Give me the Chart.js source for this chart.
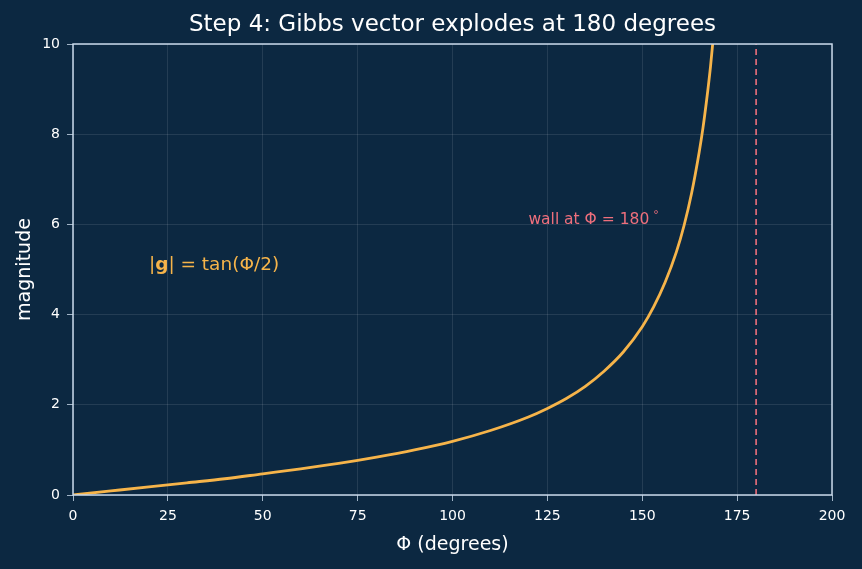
<!DOCTYPE html>
<html>
<head>
<meta charset="utf-8">
<script src="https://cdn.jsdelivr.net/npm/chart.js@4"></script>
<style>
  html, body { margin: 0; padding: 0; background: #0c2841; }
  #wrap { width: 862px; height: 569px; }
</style>
</head>
<body>
<div id="wrap"><canvas id="chart" width="862" height="569"></canvas></div>
<script>
// angle readings (degrees) and magnitudes
const phiDeg = [0, 10, 20, 30, 40, 50, 60, 70, 80, 90, 100, 110, 120, 125, 130, 135, 140, 145, 150, 153, 156, 159, 161, 163, 165, 166, 167, 168, 169, 170];
const magnitude = [0, 0.09, 0.18, 0.27, 0.36, 0.47, 0.58, 0.70, 0.84, 1.0, 1.19, 1.43, 1.73, 1.92, 2.14, 2.41, 2.75, 3.17, 3.73, 4.17, 4.71, 5.39, 5.97, 6.69, 7.60, 8.14, 8.78, 9.51, 10.39, 11.43];
const wallX = [180, 180];
const wallY = [0, 10];
const xTicks = [0, 25, 50, 75, 100, 125, 150, 175, 200];
const yTicks = [0, 2, 4, 6, 8, 10];

const bg = "#0c2841";
const spine = "#c9d9ea";
const orange = "#f6b44a";
const coral = "#ee6f7c";
const font = "'DejaVu Sans', sans-serif";

let curve = phiDeg.map((x, i) => ({ x: x, y: magnitude[i] }));
let wall = wallX.map((x, i) => ({ x: x, y: wallY[i] }));

const decor = {
  id: "decor",
  beforeDraw(chart) {
    let ctx = chart.ctx;
    ctx.save();
    ctx.fillStyle = bg;
    ctx.fillRect(0, 0, chart.width, chart.height);
    ctx.restore();
  },
  afterDatasetsDraw(chart) {
    let ctx = chart.ctx;
    let a = chart.chartArea;
    let xs = chart.scales.x;
    let ys = chart.scales.y;
    ctx.save();
    // frame
    ctx.strokeStyle = spine;
    ctx.lineWidth = 1.5;
    ctx.strokeRect(a.left, a.top, a.right - a.left, a.bottom - a.top);
    // title
    ctx.fillStyle = "#ffffff";
    ctx.font = "23px " + font;
    ctx.textAlign = "center";
    ctx.textBaseline = "alphabetic";
    ctx.fillText("Step 4: Gibbs vector explodes at 180 degrees", (a.left + a.right) / 2, 31);
    // wall label
    ctx.textAlign = "left";
    ctx.fillStyle = coral;
    ctx.font = "15.5px " + font;
    let wx = xs.getPixelForValue(120);
    let wy = ys.getPixelForValue(6);
    ctx.fillText("wall at \u03A6 = 180", wx, wy);
    let w1 = ctx.measureText("wall at \u03A6 = 180").width;
    ctx.font = "11px " + font;
    ctx.fillText("\u00B0", wx + w1 + 4, wy - 6);
    // formula label
    ctx.fillStyle = orange;
    let fx = xs.getPixelForValue(20);
    let fy = ys.getPixelForValue(5);
    ctx.font = "18.5px " + font;
    ctx.fillText("|", fx, fy);
    let px = fx + ctx.measureText("|").width;
    ctx.font = "bold 18.5px " + font;
    ctx.fillText("g", px, fy);
    px += ctx.measureText("g").width;
    ctx.font = "18.5px " + font;
    ctx.fillText("| = tan(\u03A6/2)", px, fy);
    ctx.restore();
  }
};

new Chart(document.getElementById("chart"), {
  type: "scatter",
  data: {
    datasets: [
      {
        data: curve,
        showLine: true,
        borderColor: orange,
        borderWidth: 2.8,
        pointRadius: 0,
        cubicInterpolationMode: "monotone"
      },
      {
        data: wall,
        showLine: true,
        borderColor: coral,
        borderWidth: 1.6,
        borderDash: [6, 4],
        pointRadius: 0
      }
    ]
  },
  options: {
    responsive: false,
    animation: false,
    layout: { padding: { top: 44, right: 30, left: 0, bottom: 0 } },
    plugins: {
      legend: { display: false },
      tooltip: { enabled: false }
    },
    scales: {
      x: {
        type: "linear",
        min: 0,
        max: 200,
        afterBuildTicks: s => { s.ticks = xTicks.map(v => ({ value: v })); },
        afterFit: s => { s.height = 74; },
        grid: { color: "rgba(255,255,255,0.13)", lineWidth: 0.8, tickColor: spine, tickLength: 6, drawTicks: true },
        border: { display: false },
        ticks: { color: "#ffffff", font: { family: font, size: 14 }, padding: 7, maxRotation: 0 },
        title: { display: true, text: "\u03A6 (degrees)", color: "#ffffff", font: { family: font, size: 19 }, padding: { bottom: 13 } }
      },
      y: {
        min: 0,
        max: 10,
        afterBuildTicks: s => { s.ticks = yTicks.map(v => ({ value: v })); },
        afterFit: s => { s.width = 73; },
        grid: { color: "rgba(255,255,255,0.13)", lineWidth: 0.8, tickColor: spine, tickLength: 6, drawTicks: true },
        border: { display: false },
        ticks: { color: "#ffffff", font: { family: font, size: 14 }, padding: 7 },
        title: { display: true, text: "magnitude", color: "#ffffff", font: { family: font, size: 19 }, padding: { top: 13.5 } }
      }
    }
  },
  plugins: [decor]
});
</script>
</body>
</html>
